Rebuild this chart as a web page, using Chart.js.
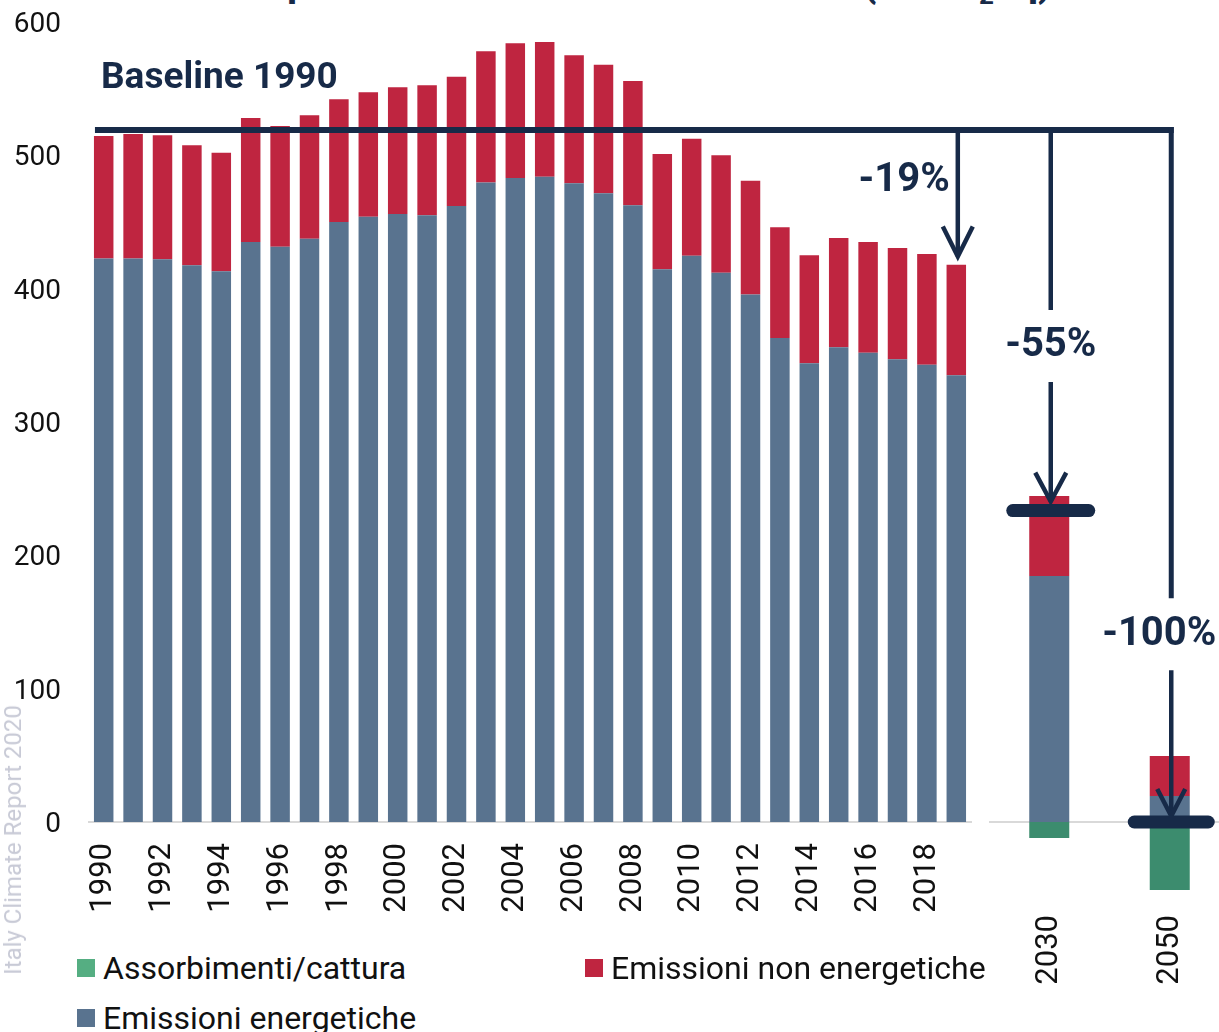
<!DOCTYPE html>
<html>
<head>
<meta charset="utf-8">
<script src="https://cdn.jsdelivr.net/npm/chart.js@4.4.1/dist/chart.umd.min.js"></script>
<style>
    html, body { margin: 0; padding: 0; background: #fff; overflow: hidden; width: 1219px; height: 1032px; position: relative; font-family: Roboto, sans-serif; }
    #leftBox { position: absolute; left: 0; top: 0; width: 980px; height: 930px; }
    #rightBox { position: absolute; left: 980px; top: 0; width: 260px; height: 1000px; }
    .title { position: absolute; top: -37px; font: bold 40px Roboto; line-height: 40px; color: #172a48; white-space: nowrap; }
    .wm { position: absolute; left: 13px; top: 840px; transform: translate(-50%, -50%) rotate(-90deg); font: 24px Roboto; color: #c8cad6; white-space: nowrap; }
    .lg { position: absolute; display: flex; align-items: center; height: 18px; font: 32px Roboto; color: #111; white-space: nowrap; }
    .lg span { display: inline-block; width: 18px; height: 18px; margin-right: 8px; }
</style>
</head>
<body>
<div class="title" style="right:932px">Emissioni </div>
<div class="title" style="left:287px">passate e obiettivi futuri</div>
<div class="title" style="right:167px">(MtCO<span style="font-size:26px;position:relative;top:8px">2</span>eq)</div>

<div id="leftBox"><canvas id="leftChart"></canvas></div>
<div id="rightBox"><canvas id="rightChart"></canvas></div>

<div class="wm">Italy Climate Report 2020</div>
<div class="lg" style="left:77px;top:959px"><span style="background:#55ae82"></span>Assorbimenti/cattura</div>
<div class="lg" style="left:585px;top:959px"><span style="background:#bf2540"></span>Emissioni non energetiche</div>
<div class="lg" style="left:77px;top:1009px"><span style="background:#59738f"></span>Emissioni energetiche</div>

<script>
// storico 1990-2019 (MtCO2eq)
const years = ['1990', '1991', '1992', '1993', '1994', '1995', '1996', '1997', '1998', '1999',
    '2000', '2001', '2002', '2003', '2004', '2005', '2006', '2007', '2008', '2009',
    '2010', '2011', '2012', '2013', '2014', '2015', '2016', '2017', '2018', '2019'];
const energy = [422.7, 422.7, 422, 417.5, 413, 435, 431.5, 437.5, 450, 454,
    456, 455, 462, 479.7, 483, 484, 479, 471.5, 462.5, 414.5,
    424.7, 412, 395.7, 363, 344, 356, 352, 347, 343, 335];
const nonEnergy = [91.8, 93.3, 93, 90, 89, 93, 90.5, 92.5, 92, 93.3,
    95, 97.5, 97, 98.3, 101, 101, 96, 96.5, 93.3, 86.5,
    87.8, 88, 85.3, 83, 81, 82, 83, 83.5, 83, 83];

// obiettivi
const targetYears = ['2030', '2050'];
const targetEnergy = [184.5, 19.5];
const targetNonEnergy = [60, 30];
const targetRemovals = [-12, -51];

const baseline1990 = 519;
const cut2019 = 0.19;
const cut2030 = 0.55;
const cut2050 = 1.0;

const BLUE = '#59738f';
const RED = '#bf2540';
const GREEN = '#3c8c6e';
const NAVY = '#172a48';

Chart.defaults.font.family = 'Roboto';
Chart.defaults.color = '#111';

function chevron(ctx, x, tipY, half, h) {
    ctx.beginPath();
    ctx.moveTo(x - half, tipY - h);
    ctx.lineTo(x, tipY);
    ctx.lineTo(x + half, tipY - h);
    ctx.stroke();
}

function vline(ctx, x, y1, y2) {
    ctx.beginPath();
    ctx.moveTo(x, y1);
    ctx.lineTo(x, y2);
    ctx.stroke();
}

// no automatic label padding, the areas have to line up between the two charts
function noPad(s) {
    s.paddingLeft = 0;
    s.paddingRight = 0;
    s.paddingTop = 0;
    s.paddingBottom = 0;
}

const leftAnnotations = {
    id: 'leftAnnotations',
    afterDatasetsDraw(chart) {
        const { ctx, scales: { x, y } } = chart;
        const bar0 = chart.getDatasetMeta(0).data[0];
        const yBase = y.getPixelForValue(baseline1990);
        ctx.save();
        ctx.strokeStyle = NAVY;
        ctx.fillStyle = NAVY;

        ctx.lineWidth = 6;
        ctx.beginPath();
        ctx.moveTo(bar0.x - bar0.width / 2 + 1, yBase);
        ctx.lineTo(chart.width, yBase);
        ctx.stroke();

        ctx.font = 'bold 37px Roboto';
        ctx.textBaseline = 'alphabetic';
        ctx.fillText('Baseline 1990', 101, 88);

        // -19%
        const xa = x.getPixelForValue(years.length - 1) + 1.5;
        const tip = y.getPixelForValue(baseline1990 * (1 - cut2019)) - 5;
        ctx.lineWidth = 4.5;
        vline(ctx, xa, yBase + 3, tip);
        chevron(ctx, xa, tip, 15, 30);
        ctx.font = 'bold 40px Roboto';
        ctx.textAlign = 'right';
        ctx.textBaseline = 'middle';
        ctx.fillText('-19%', xa - 8, y.getPixelForValue(481));
        ctx.restore();
    }
};

const rightAnnotations = {
    id: 'rightAnnotations',
    beforeDatasetsDraw(chart) {
        const { ctx, chartArea, scales: { y } } = chart;
        ctx.save();
        ctx.strokeStyle = '#d9d9d9';
        ctx.lineWidth = 2;
        ctx.beginPath();
        ctx.moveTo(chartArea.left, y.getPixelForValue(0));
        ctx.lineTo(chartArea.right, y.getPixelForValue(0));
        ctx.stroke();
        ctx.restore();
    },
    afterDatasetsDraw(chart) {
        const { ctx, scales: { x, y } } = chart;
        const yBase = y.getPixelForValue(baseline1990);
        const x30 = x.getPixelForValue(0) + 1.5;
        const x50 = x.getPixelForValue(1) + 1.5;
        ctx.save();
        ctx.strokeStyle = NAVY;
        ctx.fillStyle = NAVY;

        ctx.lineWidth = 6;
        ctx.beginPath();
        ctx.moveTo(0, yBase);
        ctx.lineTo(x50 + 2.5, yBase);
        ctx.stroke();

        ctx.font = 'bold 40px Roboto';
        ctx.textAlign = 'center';
        ctx.textBaseline = 'middle';

        // -55%
        const t30 = y.getPixelForValue(baseline1990 * (1 - cut2030));
        const l30 = y.getPixelForValue(357);
        ctx.lineWidth = 4.5;
        vline(ctx, x30, yBase, l30 - 36);
        vline(ctx, x30, l30 + 36, t30 - 9);
        chevron(ctx, x30, t30 - 9, 15.5, 29);
        ctx.fillText('-55%', x30, l30);

        // -100%
        const t50 = y.getPixelForValue(baseline1990 * (1 - cut2050));
        const l50 = y.getPixelForValue(140);
        ctx.lineWidth = 5;
        vline(ctx, x50, yBase - 3, l50 - 37);
        ctx.lineWidth = 4.5;
        vline(ctx, x50, l50 + 35, t50 - 6);
        chevron(ctx, x50, t50 - 6, 14, 27);
        ctx.fillText('-100%', x50 - 12, l50);

        // target marks
        ctx.lineWidth = 13;
        ctx.lineCap = 'round';
        ctx.beginPath();
        ctx.moveTo(x30 - 38, t30);
        ctx.lineTo(x30 + 38, t30);
        ctx.stroke();
        ctx.beginPath();
        ctx.moveTo(x50 - 37, t50);
        ctx.lineTo(x50 + 37, t50);
        ctx.stroke();
        ctx.restore();
    }
};

new Chart(document.getElementById('leftChart'), {
    type: 'bar',
    data: {
        labels: years,
        datasets: [
            { label: 'Emissioni energetiche', data: energy, backgroundColor: BLUE, barPercentage: 0.663, categoryPercentage: 1 },
            { label: 'Emissioni non energetiche', data: nonEnergy, backgroundColor: RED, barPercentage: 0.663, categoryPercentage: 1 }
        ]
    },
    options: {
        responsive: true,
        maintainAspectRatio: false,
        animation: false,
        layout: { padding: { top: 22, right: 9, left: 0, bottom: 0 } },
        plugins: { legend: { display: false }, tooltip: { enabled: false } },
        scales: {
            x: {
                stacked: true,
                grid: { display: false, drawTicks: false },
                border: { color: '#d9d9d9', width: 2 },
                ticks: {
                    autoSkip: false, minRotation: 90, maxRotation: 90, padding: 21,
                    font: { size: 31 }, color: '#111',
                    callback: (v, i) => (i % 2 === 0 ? years[i] : '')
                },
                afterFit: s => { s.height = 108; noPad(s); }
            },
            y: {
                stacked: true,
                min: 0,
                max: 600,
                grid: { display: false, drawTicks: false },
                border: { display: false },
                ticks: { stepSize: 100, padding: 28, labelOffset: 3, font: { size: 28 }, color: '#111' },
                afterFit: s => { s.width = 89; noPad(s); }
            }
        }
    },
    plugins: [leftAnnotations]
});

new Chart(document.getElementById('rightChart'), {
    type: 'bar',
    data: {
        labels: targetYears,
        datasets: [
            { label: 'Emissioni energetiche', data: targetEnergy, backgroundColor: BLUE, barPercentage: 0.332, categoryPercentage: 1 },
            { label: 'Emissioni non energetiche', data: targetNonEnergy, backgroundColor: RED, barPercentage: 0.332, categoryPercentage: 1 },
            { label: 'Assorbimenti/cattura', data: targetRemovals, backgroundColor: GREEN, barPercentage: 0.332, categoryPercentage: 1 }
        ]
    },
    options: {
        responsive: true,
        maintainAspectRatio: false,
        animation: false,
        layout: { padding: { top: 22, right: 10, left: 9, bottom: 0 } },
        plugins: { legend: { display: false }, tooltip: { enabled: false } },
        scales: {
            x: {
                stacked: true,
                grid: { display: false, drawTicks: false },
                border: { display: false },
                ticks: { minRotation: 90, maxRotation: 90, padding: 13, font: { size: 31 }, color: '#111' },
                afterFit: s => { s.height = 98; noPad(s); }
            },
            y: { stacked: true, display: false, min: -60, max: 600 }
        }
    },
    plugins: [rightAnnotations]
});
</script>
</body>
</html>
